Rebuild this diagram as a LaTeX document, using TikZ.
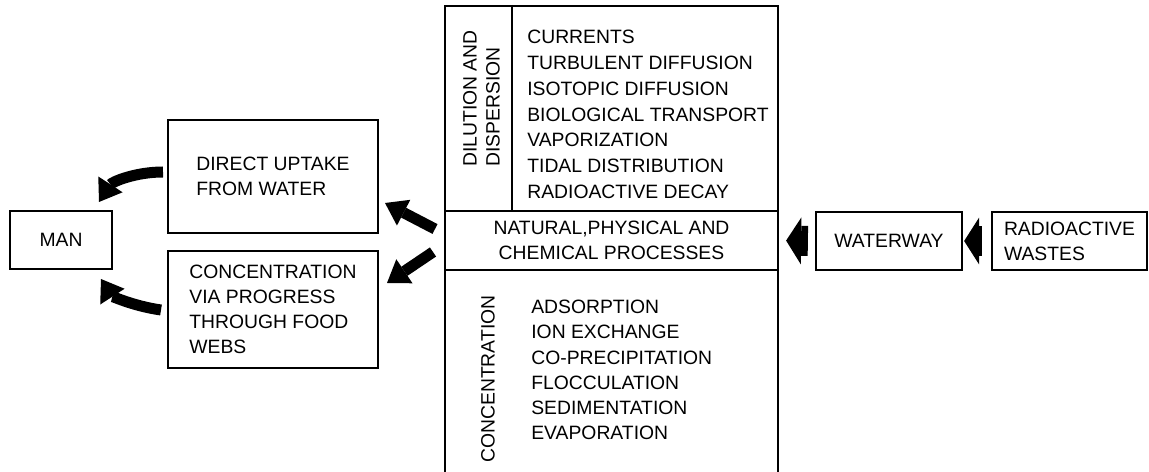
\documentclass[tikz,border=0pt]{standalone}
\usepackage{fontspec}
\setmainfont{Liberation Sans}
\usetikzlibrary{shapes,arrows.meta}

\tikzset{
	box/.style={draw,line width=1.3pt,inner sep=0pt,align=left},
	item/.style={anchor=west,inner sep=0pt},
	fatarrow/.style={line width=0.22cm,-{Triangle[length=0.42cm,width=0.58cm,line width=0pt]}},
	blockarrow/.style={line width=0.6cm,-{Triangle[length=0.3cm,width=0.94cm,line width=0pt]}}
}

\begin{document}
\begin{tikzpicture}[x=0.02cm,y=-0.02cm,font=\fontsize{11}{14.2}\selectfont]
\useasboundingbox (0,0) rectangle (1149,472);

% boxes
\node[box,minimum width=2.04cm,minimum height=1.16cm] (man) at (61,240) {MAN};
\node[box,minimum width=4.2cm,minimum height=2.26cm] (uptake) at (273,176.5) {DIRECT UPTAKE\\FROM WATER};
\node[box,minimum width=4.2cm,minimum height=2.34cm] (webs) at (273,309.5) {CONCENTRATION\\VIA PROGRESS\\THROUGH FOOD\\WEBS};
\node[box,minimum width=6.66cm,minimum height=4.1cm] (dil) at (611.5,108.5) {};
\node[box,minimum width=6.66cm,minimum height=1.18cm,align=center] (proc) at (611.5,240.5) {NATURAL,PHYSICAL AND\\CHEMICAL PROCESSES};
\node[box,minimum width=6.66cm,minimum height=4.12cm] (conc) at (611.5,373) {};
\node[box,minimum width=2.92cm,minimum height=1.16cm] (water) at (889,241) {WATERWAY};
\node[box,minimum width=3.1cm,minimum height=1.16cm] (waste) at (1069.5,241) {RADIOACTIVE\\WASTES};
\draw[line width=1.3pt] ([xshift=1.36cm]dil.north west) -- ([xshift=1.36cm]dil.south west);

% side labels
\node[item,rotate=90,align=left,font=\fontsize{11}{13}\selectfont] (dillab) at (481.5,167) {DILUTION AND\\DISPERSION};
\node[item,rotate=90] (conclab) at (488,463) {CONCENTRATION};

\foreach \t [count=\i from 0] in {CURRENTS,TURBULENT DIFFUSION,ISOTOPIC DIFFUSION,BIOLOGICAL TRANSPORT,VAPORIZATION,TIDAL DISTRIBUTION,RADIOACTIVE DECAY}
{
	\node[item] (d\i) at (527,{37+25.8*\i}) {\t};
}
\foreach \t [count=\i from 0] in {ADSORPTION,ION EXCHANGE,CO-PRECIPITATION,FLOCCULATION,SEDIMENTATION,EVAPORATION}
{
	\node[item] (c\i) at (531,{307+25.2*\i}) {\t};
}

% arrows
\coordinate (t1) at (435,229);
\coordinate (h1) at (385,203);
\coordinate (t2) at (433,252);
\coordinate (h2) at (387,283);
\coordinate (t3) at (163,172);
\coordinate (h3) at (99,202);
\coordinate (t4) at (161,310);
\coordinate (h4) at (101,279);
\draw[fatarrow] (t1) -- (h1);
\draw[fatarrow] (t2) -- (h2);
\draw[fatarrow] (t3) .. controls (135,172) and (112,182) .. (h3);
\draw[fatarrow] (t4) .. controls (133,306) and (112,296) .. (h4);
\draw[blockarrow,shorten <=0.14cm,shorten >=0.14cm] (water.west) -- (proc.east);
\draw[blockarrow,shorten <=0.18cm,shorten >=0.02cm] (waste.west) -- (water.east);
\end{tikzpicture}
\end{document}
